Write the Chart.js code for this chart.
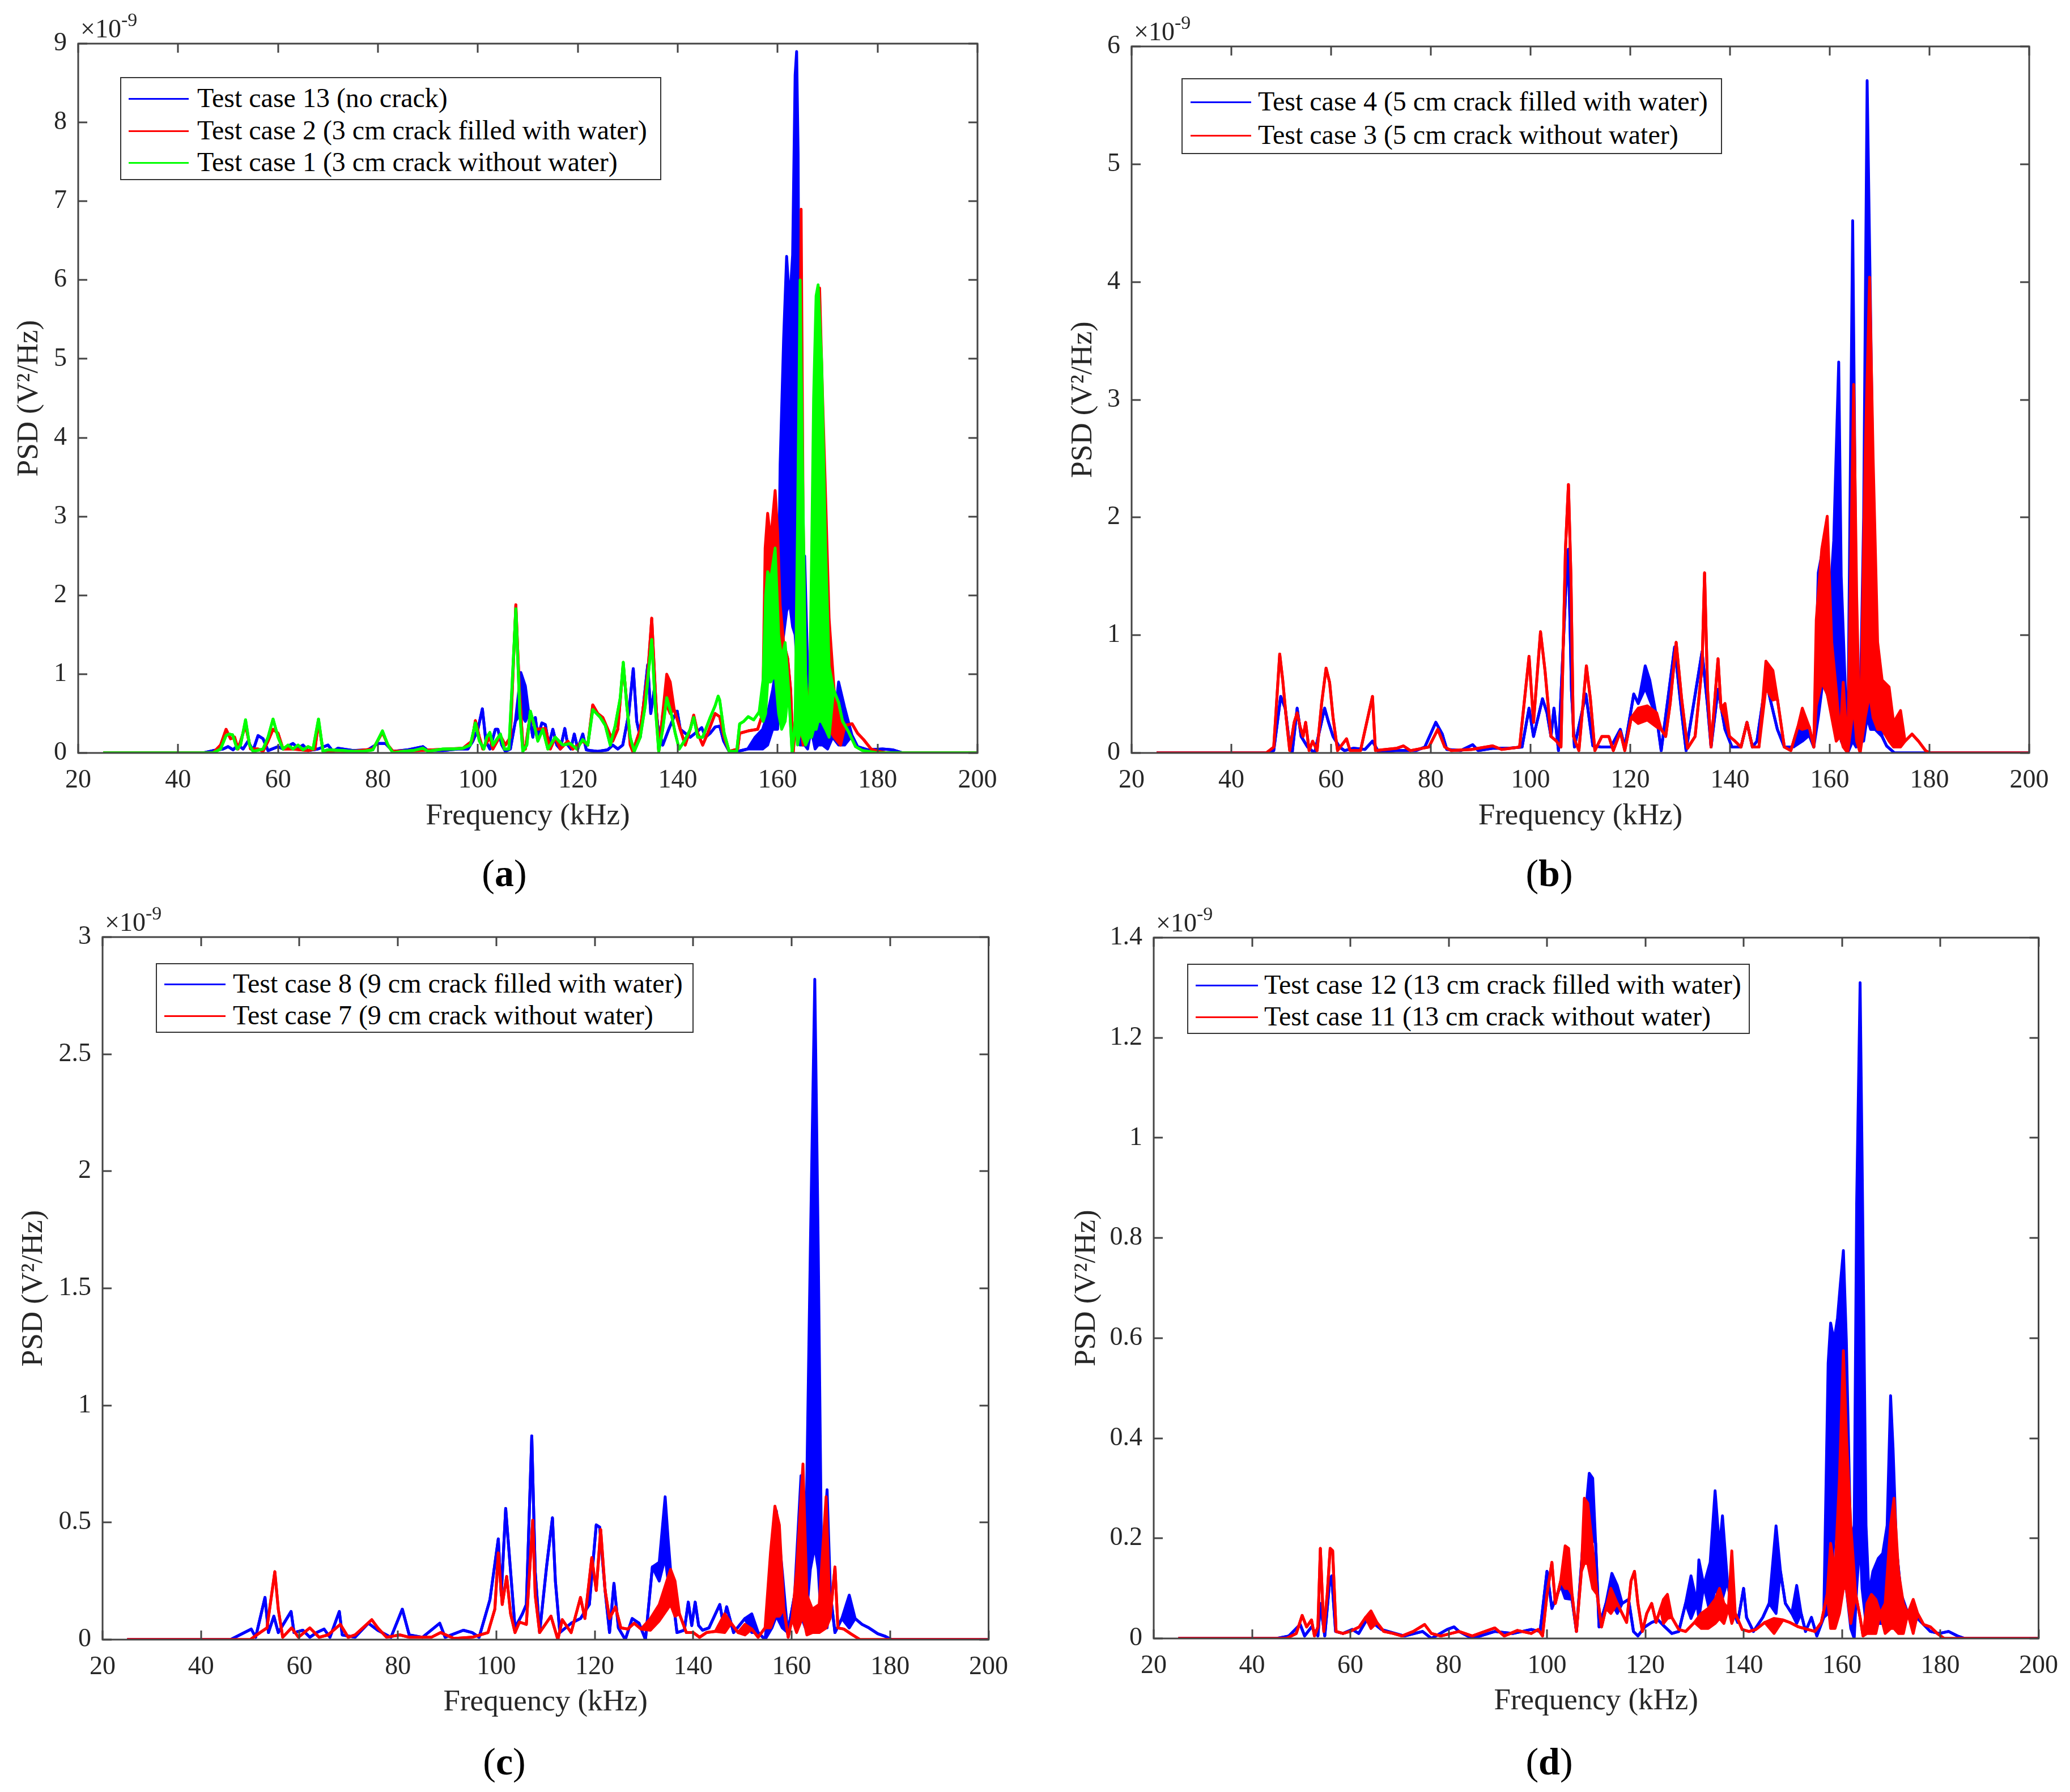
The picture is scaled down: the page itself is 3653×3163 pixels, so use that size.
<!DOCTYPE html>
<html>
<head>
<meta charset="utf-8">
<script src="https://cdn.jsdelivr.net/npm/chart.js@4/dist/chart.umd.min.js"></script>
<style>
  html, body { margin: 0; padding: 0; background: #fff; }
  #page { position: relative; width: 3653px; height: 3163px; background: #fff; overflow: hidden; font-family: "Liberation Serif", "Times New Roman", serif; }
  canvas { position: absolute; }
  .legend { position: absolute; background: #fff; border: 2px solid #333; box-sizing: border-box; }
  .legend .row { position: absolute; left: 0; height: 0; }
  .legend .ln { position: absolute; height: 3px; margin-top: -1.5px; }
  .legend .tx { position: absolute; font-size: 48px; line-height: 48px; margin-top: -25px; white-space: nowrap; color: #000; }
  .plabel { position: absolute; width: 300px; text-align: center; font-size: 68px; line-height: 68px; color: #000; }
</style>
</head>
<body>
<div id="page">
  <canvas id="cA" width="1800" height="1500" style="left:0px;top:0px;width:1800px;height:1500px"></canvas>
  <canvas id="cB" width="1853" height="1500" style="left:1800px;top:0px;width:1853px;height:1500px"></canvas>
  <canvas id="cC" width="1800" height="1500" style="left:0px;top:1560px;width:1800px;height:1500px"></canvas>
  <canvas id="cD" width="1853" height="1500" style="left:1800px;top:1560px;width:1853px;height:1500px"></canvas>
</div>
<script>
// ---------------- DATA (PSD values in units of 1e-9 V^2/Hz) ----------------
// Each point: [frequency kHz, upper value, lower value of dense oscillation (optional)]
const xTicks = [20, 40, 60, 80, 100, 120, 140, 160, 180, 200];

const legendA = ['Test case 13 (no crack)', 'Test case 2 (3 cm crack filled with water)', 'Test case 1 (3 cm crack without water)'];
const legendB = ['Test case 4 (5 cm crack filled with water)', 'Test case 3 (5 cm crack without water)'];
const legendC = ['Test case 8 (9 cm crack filled with water)', 'Test case 7 (9 cm crack without water)'];
const legendD = ['Test case 12 (13 cm crack filled with water)', 'Test case 11 (13 cm crack without water)'];
const panelLabels = ['a', 'b', 'c', 'd'];
const yMaxes = [9, 6, 3, 1.4];
const ySteps = [1, 1, 0.5, 0.2];

const case13 = [[25,0],[45,0],[47,0.03],[49,0.05],[50,0.08],[51,0.04],[52,0.1],[53,0.05],[54,0.15],[55,0.03],[56,0.22],[57,0.18],[58,0.03],[60,0.08],[61,0.05],[63,0.12],[64,0.06],[65,0.1],[66,0.03],[68,0.05],[70,0.1],[71,0.02],[72,0.06],[75,0.03],[78,0.04],[80,0.12],[81.5,0.12],[83,0.02],[86,0.04],[89,0.08],[90,0.03],[93,0.03],[96,0.05],[98,0.05],[99,0.15],[100,0.3],[100.9,0.56],[101.6,0.15],[102.4,0.05],[103.5,0.3],[104,0.3],[104.8,0.1],[105.5,0.02],[106.5,0.05],[107.5,0.4],[108.6,1.02,0.5],[109.5,0.85,0.4],[110.2,0.5],[111,0.2],[111.5,0.45],[112,0.2],[112.8,0.38],[113.5,0.36],[114.2,0.1],[115,0.3],[115.8,0.1],[116.5,0.05],[117.4,0.31],[118,0.1],[118.6,0.05],[119.3,0.24],[120,0.05],[121,0.24],[121.7,0.04],[122.5,0.03],[124,0.02],[126,0.04],[127,0.1],[128,0.05],[129,0.1],[130.2,0.5],[131.1,1.07],[131.8,0.4],[132.5,0.2],[133.3,0.7],[134,1.12],[134.6,0.5],[135.3,0.8],[136,0.35],[137,0.1],[138.2,0.3],[139.2,0.45],[139.9,0.53],[140.5,0.3],[141.5,0.25],[142.5,0.2],[143.5,0.25],[144.8,0.32],[145.6,0.2],[146.5,0.25],[147.5,0.33],[148.4,0.34],[149.2,0.15],[150.3,0.02],[152,0.02],[154,0.05],[155.5,0.2,0.05],[157,0.3,0.05],[158,0.5,0.1],[159,0.8,0.3],[160,1.2,0.3],[160.5,3.66,1.2],[161.2,5.26,1.5],[161.8,6.3,1.8],[162.4,5.7,1.9],[163,6.32,1.6],[163.5,8.6,1.5],[163.8,8.9,1.2],[164.1,7.6,0.3],[164.5,2.0,0.1],[165.4,2.5,0.1],[166,1.1,0.05],[166.7,0.3],[167.5,0.9,0.05],[168.1,1.17,0.1],[169,0.9,0.1],[170,0.4,0.05],[171,0.2],[172.2,0.9,0.1],[173.4,0.58,0.1],[174.9,0.22],[176,0.08],[178,0.04],[181,0.05],[183,0.04],[185,0],[200,0]];

const case2 = [[25,0],[47,0],[48.5,0.1],[49.6,0.3],[50.5,0.18],[51.3,0.2],[52,0.05],[53.5,0.35],[54.5,0.05],[56,0.05],[57,0.02],[58,0.15],[59,0.3],[60,0.25],[61,0.05],[63,0.05],[66,0.03],[67.4,0.05],[68.1,0.4],[69,0.02],[72,0.03],[75,0.02],[79,0.05],[80.9,0.26],[82,0.1],[83,0.02],[88,0.03],[91,0.04],[94,0.05],[97,0.06],[98.8,0.15],[99.5,0.41],[100.3,0.2],[101,0.05],[102.4,0.2],[103,0.05],[104.5,0.22],[105.5,0.1],[106.5,0.2],[107.6,1.88],[108.3,0.8],[109,0.1],[109.5,0.05],[110.5,0.5],[111.5,0.3],[113.5,0.31],[114.5,0.05],[115.5,0.2],[116.5,0.05],[118,0.15],[119,0.05],[120,0.1],[121,0.15],[122,0.1],[123,0.61],[124,0.5],[125,0.45],[126,0.3],[127,0.15],[128,0.3],[129.1,1.12],[130,0.5],[130.5,0.1],[131,0.02],[132.5,0.3],[134,1.0],[134.8,1.71],[135.5,0.8],[136.2,0.02],[137,0.5],[137.8,1.0,0.6],[138.5,0.9,0.5],[139.3,0.55],[140.5,0.3],[141.5,0.1],[142.5,0.3],[143.2,0.48],[144,0.25],[145,0.1],[146,0.25],[147.5,0.5],[148.4,0.46],[149.3,0.2],[150.3,0.02],[152,0.05],[152.4,0.25],[154.1,0.28],[156,0.3],[157,0.5],[157.5,2.6,1.0],[158,3.04,1.2],[158.6,2.7,1.2],[159.5,3.33,1.5],[160,2.8,1.2],[160.5,1.88,0.9],[161.2,1.4],[162,1.2],[162.6,0.8],[163.1,0],[163.8,0.5],[164.3,3,0.2],[164.7,6.9,0.3],[165.1,3.0,0.1],[165.8,0.17],[166.4,0.8],[167.1,1.65,1.2],[167.7,3.0,1.2],[168.4,5.9,1.3],[169,4.5,1],[169.6,3.24,0.6],[170.3,1.7,0.3],[171.3,0.8,0.2],[172.6,0.46,0.1],[173.5,0.35],[174.9,0.37],[176,0.25],[177.2,0.17],[178.7,0.05],[180,0.02],[182,0],[200,0]];

const case1 = [[25,0],[47,0],[48.5,0.05],[49.6,0.22],[50.2,0.24],[50.9,0.23],[51.8,0.05],[52.5,0.1],[53.5,0.42],[54.3,0.1],[55,0.02],[57,0.05],[58,0.2],[59,0.43],[60,0.2],[61,0.05],[62,0.1],[63,0.05],[64,0.1],[65,0.04],[66,0.08],[67,0.05],[68.1,0.43],[69,0.02],[70,0.04],[73,0.03],[75,0.02],[77,0.02],[79,0.04],[80.9,0.28],[82,0.1],[83,0],[85,0.02],[87,0.03],[89,0.06],[90,0.02],[93,0.05],[95,0.05],[97,0.06],[98.5,0.1],[99.5,0.38],[100.3,0.15],[101.2,0.05],[101.8,0.2],[102.4,0.26],[103,0.1],[104.5,0.24],[105.3,0.05],[106.2,0.05],[106.8,0.8],[107.6,1.83],[108.4,0.5],[109,0.02],[109.8,0.1],[110.5,0.53],[111.3,0.35],[112,0.15],[113,0.3],[114,0.05],[115.5,0.2],[117,0.1],[118.5,0.12],[119.8,0.05],[121,0.17],[122,0.1],[123,0.55],[124.5,0.45],[125.5,0.35],[126.5,0.1],[127.5,0.35],[128.5,0.7],[129.1,1.15],[129.8,0.6],[130.5,0.2],[131.3,0.02],[132.5,0.2],[133.5,0.6],[134.8,1.44],[135.5,0.6],[136.2,0.02],[137,0.3],[137.8,0.7],[138.7,0.5],[139.5,0.25],[140.3,0.05],[141.5,0.17],[142.5,0.3],[143.2,0.45],[144,0.2],[145,0.2],[146.5,0.45],[147.5,0.6],[148.1,0.72],[148.4,0.67],[149.3,0.25],[150.3,0.02],[151.8,0.02],[152.4,0.37],[153.2,0.4],[154.1,0.46],[155.2,0.42],[156.3,0.52],[157.1,0.94,0.4],[157.6,2.0,0.5],[158,2.3,0.9],[158.6,2.2,0.9],[159.5,2.6,1.0],[160.2,1.5,0.5],[160.8,1.2,0.3],[161.5,1.4,0.4],[162.2,0.8],[162.9,0],[163.5,0.4],[164,3.0,0.1],[164.5,6.0,0.3],[165,3.5,0.2],[165.6,1.0,0.1],[166.3,0.2],[166.8,2.5,0.2],[167.2,4.5,0.3],[167.7,5.8,0.3],[168.1,5.94,0.4],[168.8,4.96,0.4],[169.6,2.6,0.3],[170.3,1.1,0.2],[171.2,0.8],[172.2,0.64],[173,0.4],[174.1,0.28],[175.6,0.08],[177,0.03],[180,0],[200,0]];

const case4 = [[25,0],[47,0],[48.5,0.02],[49.9,0.48],[50.8,0.38],[51.7,0.06],[52.2,0],[53.2,0.38],[54,0.14],[55.3,0.05],[56.7,0],[58.7,0.38],[59.5,0.26],[60.4,0.14],[61.7,0.05],[62.7,0.02],[64.5,0.04],[66.8,0.03],[68.3,0.1],[69.5,0.01],[73,0.02],[77,0.02],[78.8,0.05],[81,0.26],[82.3,0.16],[83.2,0.03],[86,0.02],[88.4,0.07],[89.5,0.02],[92.4,0.04],[95.6,0.04],[98.3,0.05],[99.7,0.38],[100.6,0.14],[102.4,0.46],[103.3,0.34],[104.1,0.14],[104.7,0.38],[105.6,0.02],[107,1.33],[107.6,1.73],[108.2,0.54],[108.8,0.05],[111.1,0.5],[112.5,0.06],[114.3,0.05],[116.1,0.05],[118,0.2],[118.9,0.05],[120.7,0.5],[121.6,0.42],[123,0.74,0.55],[123.9,0.62,0.45],[125.3,0.3],[126.2,0.02],[128.9,0.9],[130.3,0.34],[131.2,0.02],[134.4,0.86],[135.5,0.4],[136.2,0.05],[137.6,0.54],[139,0.2],[140.4,0.05],[142.2,0.05],[143.4,0.26],[144.5,0.05],[145.4,0.1],[147.2,0.62],[148.1,0.45],[149.5,0.2],[150.9,0.05],[152.7,0.05],[154.5,0.3,0.1],[155.9,0.15],[156.8,0.05],[157.7,1.53,0.3],[158.6,1.73,0.6],[159.5,0.94,0.5],[160.8,1.8,0.3],[161.8,3.32,0.3],[162.3,1.5,0.1],[163.6,0],[164.6,4.52,0.1],[165.3,1.2,0.05],[166,0.1],[166.8,2.0,0.1],[167.5,5.71,0.3],[168.2,3.7,0.2],[169.1,0.94,0.2],[170.5,0.14],[171.4,0.06],[173,0],[200,0]];

const case3 = [[25,0],[47,0],[48.5,0.05],[49.7,0.84],[50.3,0.62],[51,0.3],[51.7,0.02],[52.6,0.26],[53.2,0.34],[53.8,0.22],[54.4,0.14],[54.9,0.26],[55.6,0.02],[56.3,0.1],[57.2,0.02],[58.1,0.42],[59,0.72],[59.7,0.6],[60.4,0.3],[61.3,0.02],[63.1,0.12],[63.8,0.02],[65.9,0.02],[68.3,0.48],[68.9,0.02],[73.2,0.04],[74.5,0.06],[75.9,0.02],[79.6,0.05],[81.4,0.2],[82.8,0.05],[84.1,0.02],[88.2,0.03],[92.4,0.06],[94.2,0.03],[96,0.04],[97.8,0.05],[99.7,0.82],[100.6,0.26],[102,1.03],[102.9,0.7],[104.1,0.14],[105.2,0.1],[106.1,0.05],[107,1.73],[107.6,2.28],[108.1,1.5],[108.6,0.14],[109.7,0.02],[111.2,0.74],[112,0.46],[112.9,0.02],[114.3,0.14],[115.7,0.14],[116.6,0.02],[118,0.18],[118.9,0.02],[120.2,0.3],[121.6,0.38,0.25],[123.4,0.4,0.28],[125.3,0.34,0.22],[126.2,0.2],[127.1,0.14],[128,0.42],[129.2,0.94],[130.3,0.46],[131.5,0.04],[133,0.14],[134.4,0.74],[134.9,1.53],[135.5,0.54],[136.2,0.05],[137.6,0.8],[138.2,0.38],[139,0.42,0.3],[139.9,0.14],[141,0.1],[142.2,0.05],[143.4,0.26],[144.5,0.05],[145.8,0.05],[147.2,0.78,0.55],[148.6,0.7,0.45],[149.5,0.46],[150.9,0.05],[152.2,0.02],[153.6,0.22],[154.5,0.38,0.2],[155.9,0.22],[156.8,0.05],[157.3,1.13,0.4],[158.4,1.73,0.6],[159.5,2.01,0.5],[160.4,0.94,0.3],[161.3,0.54,0.1],[162.1,0.14],[162.7,0.6,0.05],[163.6,0],[164.8,3.13,0.4],[165.4,1.33,0.1],[166.1,0],[167.1,2.5,0.3],[168,4.04,0.5],[168.7,2.5,0.3],[169.6,0.94,0.2],[170.5,0.62,0.2],[171.9,0.56,0.1],[172.8,0.26,0.05],[174.2,0.36,0.05],[175.1,0.1],[176.5,0.16],[177.8,0.1],[179.2,0.02],[180.1,0],[200,0]];

const case8 = [[25,0],[46,0],[50.2,0.045],[51.1,0.01],[53,0.18],[53.7,0.03],[54.8,0.1],[55.7,0.03],[58.3,0.12],[58.9,0.03],[60.7,0.04],[62.1,0.01],[63.5,0.03],[65,0.045],[66.2,0.01],[68.1,0.12],[68.7,0.02],[71.3,0.01],[74,0.07],[75.9,0.04],[78.6,0.01],[80.9,0.13],[82.3,0.02],[85,0.01],[88.5,0.07],[89.6,0.01],[93.3,0.04],[95.1,0.03],[96.5,0.01],[98.7,0.17],[100.4,0.43],[101,0.19],[101.9,0.56],[102.9,0.29],[103.8,0.05],[105.3,0.11],[106.1,0.15],[107.2,0.87],[107.9,0.29],[108.8,0.03],[110.2,0.31],[111.4,0.52],[112,0.25],[112.9,0.03],[115.2,0.07],[117.1,0.09],[118.9,0.15],[120.3,0.49],[121,0.48],[122.1,0.21],[123,0.03],[123.9,0.24],[124.8,0.05],[126.2,0],[127.6,0.09],[129,0.07],[130.3,0],[131.7,0.31],[133.1,0.33,0.25],[134.3,0.61,0.35],[134.9,0.43,0.25],[135.8,0.19],[136.7,0.03],[138.2,0.04],[139,0.16],[139.7,0.06],[140.4,0.16],[141.1,0.06],[141.9,0.04],[143.2,0.05],[145.4,0.15],[146.1,0.07],[146.8,0.14],[148.2,0.03],[150.5,0.09],[151.9,0.11,0.03],[153.2,0.03],[154.6,0],[156,0.29,0.05],[156.9,0.55,0.1],[158.1,0.29,0.05],[159.2,0.03],[160.6,0.19],[161.9,0.7,0.1],[162.8,0.29,0.05],[163.8,1.67,0.3],[164.7,2.82,0.4],[165.4,1.67,0.3],[166.1,0.29,0.05],[167.2,0.64,0.05],[167.9,0.19],[168.8,0.03],[170.2,0.09],[171.7,0.19,0.05],[172.9,0.09],[174.3,0.065],[175.7,0.05],[177.5,0.025],[178.9,0.015],[180.3,0],[200,0]];

const case7 = [[25,0],[50,0],[52,0.03],[53.4,0.05],[55,0.29],[55.7,0.13],[56.6,0.01],[58.4,0.05],[59.8,0.01],[62.1,0.05],[64,0.01],[65.8,0.02],[68.3,0.065],[69.9,0.01],[71.3,0.02],[74.7,0.085],[75.9,0.05],[77.7,0.01],[80.4,0.02],[82.3,0.01],[86.8,0.01],[88.7,0.03],[91.4,0.005],[95.1,0.01],[98.3,0.03],[99.7,0.13],[100.4,0.37],[101.2,0.15],[102.1,0.27],[102.9,0.11],[103.8,0.03],[104.7,0.075],[106.1,0.065],[107.4,0.51],[107.9,0.19],[108.8,0.03],[111.1,0.1],[112.5,0],[113.4,0.085],[115.2,0.03],[117.1,0.18],[118,0.09],[119.4,0.35],[120.3,0.21],[121.2,0.47],[122.1,0.21],[123,0.09],[124.2,0.14],[125.3,0.05],[126.7,0.045],[128,0.07],[129.4,0.045],[131.3,0.09,0.04],[133.1,0.15,0.08],[135.4,0.3,0.15],[136.3,0.25,0.1],[137.2,0.11],[138.6,0.03],[140,0.03],[141.3,0.01],[142.7,0.03],[144.5,0.035],[146.4,0.11,0.03],[147.7,0.07],[149.1,0.03],[150.5,0.065,0.02],[151.9,0.045],[153.2,0.01],[154.6,0.05],[155.7,0.37,0.05],[156.6,0.57,0.1],[157.5,0.49,0.1],[158.4,0.13],[159.3,0.01],[160.1,0.09],[161,0.29,0.03],[162.3,0.75,0.1],[163.1,0.19,0.02],[164.2,0.13,0.03],[165.6,0.15,0.03],[167,0.61,0.05],[167.8,0.09],[168.8,0.31],[169.4,0.05],[170.6,0.045],[172,0.025],[173.9,0],[200,0]];

const case12 = [[25,0],[45,0],[47.5,0.005],[49.8,0.028],[50.7,0.005],[52.1,0.023],[53.4,0.005],[53.9,0.07],[54.8,0.005],[55.8,0.115],[56.2,0.125],[57,0.014],[58.5,0.01],[60.4,0.018],[61.7,0.01],[63.6,0.042],[64.5,0.032],[66.3,0.018],[67.7,0.014],[69.1,0.01],[71,0.005],[74.7,0.014],[76.5,0],[79.7,0.018],[81.1,0.023],[82.1,0.014],[84.8,0],[89.4,0.014],[93.1,0.01],[96.8,0.018],[98.6,0.014],[100,0.134],[101,0.06],[102.8,0.106],[103.7,0.134,0.08],[105.1,0.078],[106,0.014],[107.4,0.2],[108.6,0.33,0.2],[109.3,0.32,0.2],[109.9,0.19],[110.6,0.023],[112,0.07],[113.2,0.13,0.07],[114.3,0.106,0.05],[115.3,0.07],[116.6,0.078],[117.6,0.014],[118.5,0.005],[119.9,0.023],[121.3,0.032],[122.6,0.037],[124,0.023],[125.4,0.01],[126.8,0.014],[128.2,0.07],[129.3,0.125,0.04],[130.5,0.07],[130.9,0.157,0.04],[131.9,0.106],[133.2,0.152,0.05],[134.2,0.295,0.1],[135.1,0.18,0.08],[135.7,0.245,0.08],[136.7,0.115],[137.6,0.06],[138.8,0.032],[140,0.1],[140.6,0.042],[142,0.014],[143.9,0.042],[145.2,0.07],[146.6,0.225,0.05],[147.5,0.134],[148.5,0.07],[149.8,0.05],[150.8,0.106,0.03],[151.7,0.05],[152.6,0.014],[153.8,0.042],[154.9,0.005],[156.3,0.042],[157.2,0.55,0.05],[157.7,0.63,0.1],[158.4,0.595,0.2],[159.1,0.64,0.2],[159.7,0.71,0.2],[160.3,0.775,0.2],[160.9,0.595,0.1],[161.8,0.18,0.02],[162.5,0.226,0],[163,0.87,0.1],[163.7,1.31,0.2],[164.1,0.96,0.1],[164.9,0.226,0.03],[165.5,0.088],[166.3,0.134,0.02],[167.4,0.16,0.03],[168.3,0.17,0.03],[169.2,0.226,0.05],[169.9,0.485,0.05],[170.4,0.38,0.05],[171.1,0.18],[172,0.09],[173.4,0.05],[175.2,0.042],[176.6,0.028],[178,0.014],[179.8,0.01],[181.7,0.014],[183.5,0.005],[185,0],[200,0]];

const case11 = [[25,0],[47,0],[49,0.01],[50.2,0.046],[51.1,0.023],[52.1,0.037],[52.7,0.005],[53.4,0.023],[53.9,0.18],[54.6,0.014],[55.3,0.088],[55.9,0.18],[56.4,0.175],[57.1,0.014],[58.5,0.01],[59.9,0.014],[61.8,0.023],[63.1,0.042],[64.2,0.055,0.02],[65.4,0.032],[66.8,0.014],[68.7,0.01],[70.5,0.005],[72.8,0.014],[75.1,0.028],[76.5,0.01],[78.4,0.005],[82.1,0.014],[84.8,0.005],[89.4,0.021],[91.3,0.005],[94,0.016],[96.8,0.01],[98.2,0.018],[99.1,0.005],[100,0.088],[101,0.152],[101.7,0.07],[102.8,0.115],[103.7,0.185,0.1],[104.4,0.18,0.1],[105.1,0.088],[106,0.014],[107,0.134],[107.6,0.28,0.15],[108.3,0.27,0.15],[109.3,0.18,0.1],[110.2,0.088],[111.1,0.023],[112,0.06],[113,0.1,0.05],[114.3,0.07],[115.3,0.05],[116.2,0.032],[117.1,0.115],[117.8,0.134],[118.5,0.07],[119.4,0.014],[120.3,0.05],[121.3,0.07],[122.2,0.032],[123.1,0.06],[123.7,0.078,0.03],[124.5,0.088,0.04],[125.4,0.042],[126.8,0.018],[128.2,0.014],[130,0.032],[131.4,0.05,0.02],[132.8,0.06,0.02],[134.2,0.078,0.03],[135.1,0.1,0.04],[136,0.07,0.03],[136.9,0.06],[137.6,0.175,0.03],[138.3,0.05],[139.7,0.018],[141.1,0.014],[142.5,0.018],[144.3,0.032],[146.2,0.04,0.01],[148,0.037],[149.4,0.032],[151.2,0.023],[153.1,0.018],[154.5,0.014],[155.8,0.032],[157,0.088],[157.7,0.19,0.02],[158.6,0.134,0.02],[159.5,0.32,0.05],[160.3,0.575,0.1],[160.9,0.41,0.1],[161.8,0.226,0.03],[162.8,0.088],[163.7,0.042],[164.3,0.005],[165.1,0.07,0.01],[166,0.088,0.01],[166.9,0.078,0.01],[167.8,0.05],[168.8,0.07,0.01],[169.9,0.226,0.02],[170.6,0.28,0.02],[171.5,0.134,0.01],[172.5,0.07,0.01],[173.4,0.05],[174.5,0.078,0.01],[175.4,0.05],[176.6,0.028],[178,0.023],[179.4,0.01],[180.8,0],[200,0]];

// ---------------- RENDERING ----------------
const BLUE = '#0000FF', RED = '#FF0000', GREEN = '#00FF00';
const AXC = '#262626';
const BOXC = '#444444';
const FAM = '"Liberation Serif", "Times New Roman", serif';
Chart.defaults.font.family = FAM;

function band(series, color, order) {
  const hi = series.map(p => ({x: p[0], y: p[1]}));
  const lo = series.map(p => ({x: p[0], y: p.length > 2 ? p[2] : p[1]}));
  return [
    {data: hi, borderColor: color, backgroundColor: color, borderWidth: 5, pointRadius: 0, fill: '+1', order: order, tension: 0, borderJoinStyle: 'round'},
    {data: lo, borderColor: color, backgroundColor: color, borderWidth: 5, pointRadius: 0, fill: false, order: order, tension: 0, borderJoinStyle: 'round'}
  ];
}

const matlabAxes = {
  id: 'matlabAxes',
  afterDraw(chart) {
    const {ctx, chartArea: a, scales} = chart;
    const x = scales.x, y = scales.y;
    ctx.save();
    ctx.strokeStyle = BOXC;
    ctx.lineWidth = 3;
    ctx.strokeRect(a.left, a.top, a.right - a.left, a.bottom - a.top);
    const L = 16;
    ctx.beginPath();
    x.ticks.forEach(t => {
      const px = Math.round(x.getPixelForValue(t.value));
      ctx.moveTo(px, a.bottom); ctx.lineTo(px, a.bottom - L);
      ctx.moveTo(px, a.top); ctx.lineTo(px, a.top + L);
    });
    y.ticks.forEach(t => {
      const py = Math.round(y.getPixelForValue(t.value));
      ctx.moveTo(a.left, py); ctx.lineTo(a.left + L, py);
      ctx.moveTo(a.right, py); ctx.lineTo(a.right - L, py);
    });
    ctx.stroke();
    ctx.fillStyle = AXC;
    ctx.textBaseline = 'alphabetic';
    ctx.textAlign = 'left';
    ctx.font = '46px ' + FAM;
    const bx = a.left + 4, by = a.top - 11;
    ctx.fillText('\u00D710', bx, by);
    const w = ctx.measureText('\u00D710').width;
    ctx.font = '34px ' + FAM;
    ctx.fillText('-9', bx + w, by - 20);
    ctx.restore();
  }
};

function makePanel(cfg) {
  const canvas = document.getElementById(cfg.id);
  let datasets = [];
  cfg.series.forEach(s => { datasets = datasets.concat(band(s.data, s.color, s.order)); });
  new Chart(canvas, {
    type: 'line',
    data: { datasets: datasets },
    options: {
      responsive: false,
      maintainAspectRatio: false,
      animation: false,
      devicePixelRatio: 1,
      events: [],
      layout: { padding: { left: 0, top: cfg.padTop, right: cfg.padRight, bottom: 0 } },
      plugins: { legend: { display: false }, tooltip: { enabled: false } },
      scales: {
        x: {
          type: 'linear', position: 'bottom', min: 20, max: 200,
          afterBuildTicks: s => { s.ticks = xTicks.map(v => ({value: v})); },
          ticks: { font: { size: 46, family: FAM }, color: AXC, padding: 21, maxRotation: 0, minRotation: 0, autoSkip: false,
                   callback: v => String(v) },
          grid: { display: false, drawTicks: false },
          border: { display: false },
          title: { display: true, text: 'Frequency (kHz)', color: AXC, font: { size: 53, family: FAM }, padding: { top: 0, bottom: cfg.xTitlePad } },
          afterFit: s => { s.height = cfg.xh; }
        },
        y: {
          type: 'linear', position: 'left', min: 0, max: cfg.ymax,
          ticks: { stepSize: cfg.ystep, font: { size: 46, family: FAM }, color: AXC, padding: 20,
                   callback: v => String(Number(Number(v).toFixed(2))) },
          grid: { display: false, drawTicks: false },
          border: { display: false },
          title: { display: true, text: 'PSD (V\u00B2/Hz)', color: AXC, font: { size: 53, family: FAM }, padding: { top: cfg.yTitlePad, bottom: 0 } },
          afterFit: s => { s.width = cfg.yw; }
        }
      }
    },
    plugins: [matlabAxes]
  });
}

makePanel({ id: 'cA', padTop: 77, padRight: 75, xh: 171, yw: 138, xTitlePad: 27, yTitlePad: 20, ymax: yMaxes[0], ystep: ySteps[0],
  series: [ {data: case13, color: BLUE, order: 2}, {data: case2, color: RED, order: 1}, {data: case1, color: GREEN, order: 0} ] });
makePanel({ id: 'cB', padTop: 82, padRight: 72, xh: 171, yw: 197, xTitlePad: 27, yTitlePad: 80, ymax: yMaxes[1], ystep: ySteps[1],
  series: [ {data: case4, color: BLUE, order: 1}, {data: case3, color: RED, order: 0} ] });
makePanel({ id: 'cC', padTop: 94, padRight: 40, xh: 166, yw: 181, xTitlePad: 23, yTitlePad: 28, ymax: yMaxes[2], ystep: ySteps[2],
  series: [ {data: case8, color: BLUE, order: 1}, {data: case7, color: RED, order: 0} ] });
makePanel({ id: 'cD', padTop: 95, padRight: 48, xh: 168, yw: 236, xTitlePad: 25, yTitlePad: 86, ymax: yMaxes[3], ystep: ySteps[3],
  series: [ {data: case12, color: BLUE, order: 1}, {data: case11, color: RED, order: 0} ] });

// ---------------- LEGENDS & PANEL LABELS (HTML text) ----------------
const page = document.getElementById('page');
function addLegend(box, labels, colors) {
  const d = document.createElement('div');
  d.className = 'legend';
  d.style.left = box.x + 'px'; d.style.top = box.y + 'px';
  d.style.width = box.w + 'px'; d.style.height = box.h + 'px';
  labels.forEach((t, i) => {
    const r = document.createElement('div');
    r.className = 'row';
    r.style.top = box.rows[i] + 'px';
    const ln = document.createElement('div');
    ln.className = 'ln';
    ln.style.left = box.lx0 + 'px'; ln.style.width = (box.lx1 - box.lx0) + 'px';
    ln.style.background = colors[i];
    const tx = document.createElement('div');
    tx.className = 'tx';
    tx.style.left = box.tx + 'px';
    tx.textContent = t;
    r.appendChild(ln); r.appendChild(tx);
    d.appendChild(r);
  });
  page.appendChild(d);
}
addLegend({x: 212, y: 136, w: 955, h: 182, lx0: 13, lx1: 119, tx: 134, rows: [36, 93, 149]}, legendA, [BLUE, RED, GREEN]);
addLegend({x: 2085, y: 138, w: 954, h: 134, lx0: 14, lx1: 121, tx: 133, rows: [40, 99]}, legendB, [BLUE, RED]);
addLegend({x: 275, y: 1700, w: 949, h: 123, lx0: 13, lx1: 121, tx: 134, rows: [35, 91]}, legendC, [BLUE, RED]);
addLegend({x: 2095, y: 1701, w: 993, h: 124, lx0: 13, lx1: 123, tx: 134, rows: [36, 92]}, legendD, [BLUE, RED]);

const labelPos = [[890, 1541], [2734, 1541], [890, 3109], [2734, 3109]];
panelLabels.forEach((t, i) => {
  const d = document.createElement('div');
  d.className = 'plabel';
  d.style.left = (labelPos[i][0] - 150) + 'px';
  d.style.top = (labelPos[i][1] - 34) + 'px';
  d.innerHTML = '(<b>' + t + '</b>)';
  page.appendChild(d);
});
</script>
</body>
</html>
